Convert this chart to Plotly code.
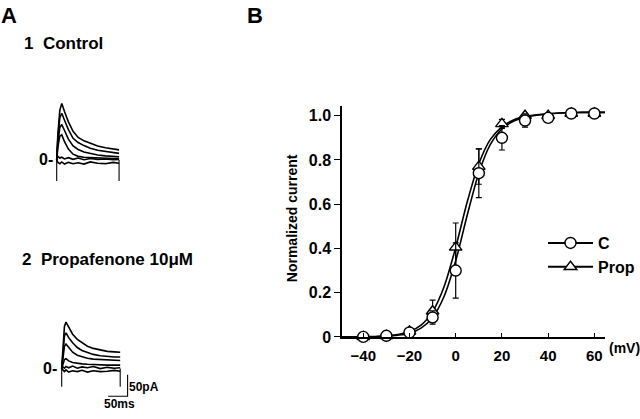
import plotly.graph_objects as go

# ---------------- panel B : normalized activation ----------------
volt = [-40, -30, -20, -10, 0, 10, 20, 30, 40, 50, 60]
ctrl_mean = [0.0, 0.005, 0.02, 0.088, 0.30, 0.74, 0.90, 0.978, 0.99, 1.01, 1.01]
ctrl_err = [0.0, 0.0, 0.01, 0.03, 0.125, 0.11, 0.055, 0.03, 0.015, 0.0, 0.0]
prop_mean = [0.0, 0.005, 0.025, 0.116, 0.405, 0.77, 0.963, 1.0, 1.0, 1.01, 1.01]
prop_err = [0.0, 0.0, 0.01, 0.05, 0.11, 0.08, 0.02, 0.01, 0.01, 0.0, 0.0]

fit_volt = [-50, -45, -40, -35, -30, -25, -20, -15, -10, -5, 0, 5,
            10, 15, 20, 25, 30, 35, 40, 45, 50, 55, 60, 65]
ctrl_fit = [0.0, 0.0, 0.001, 0.001, 0.003, 0.008, 0.017, 0.040, 0.088, 0.184, 0.344, 0.551,
            0.741, 0.870, 0.940, 0.975, 0.992, 1.002, 1.008, 1.012, 1.014, 1.015, 1.015, 1.015]
prop_fit = [0.0, 0.0, 0.001, 0.002, 0.005, 0.011, 0.024, 0.053, 0.114, 0.228, 0.405, 0.611,
            0.783, 0.893, 0.950, 0.981, 0.996, 1.004, 1.009, 1.012, 1.014, 1.015, 1.015, 1.015]

xticks = [-40, -20, 0, 20, 40, 60]
yticks = [0, 0.2, 0.4, 0.6, 0.8, 1.0]
ytick_text = ["0", "0.2", "0.4", "0.6", "0.8", "1.0"]

# ---------------- panel A : current traces (ms, pA) ----------------
ctrl_t = [0, 3, 8, 13, 20, 30, 42, 55, 70, 86, 105, 125, 145, 160]
ctrl_traces = [
    [0, 60, 115, 131, 112, 88, 66, 52, 44, 38, 32, 28, 25, 23],
    [0, 50, 98, 108, 92, 70, 50, 40, 33, 27, 22, 19, 16, 15],
    [0, 40, 75, 82, 68, 48, 32, 24, 18, 14, 11, 9, 8, 7],
    [0, 30, 55, 58, 42, 25, 13, 8, 6, 5, 4, 3, 3, 3],
    [0, 8, 4, 6, 2, 5, 1, 4, 0, 3, 1, 2, 0, 1],
    [0, -6, -9, -5, -10, -6, -9, -7, -10, -5, -8, -9, -6, -8],
]
prop_t = [0, 3, 7, 11, 18, 28, 40, 52, 66, 81, 99, 117, 135, 150]
prop_traces = [
    [0, 55, 98, 108, 96, 80, 68, 60, 52, 47, 43, 40, 39, 38],
    [0, 40, 76, 83, 72, 60, 49, 42, 37, 33, 30, 28, 27, 27],
    [0, 28, 52, 57, 48, 38, 31, 27, 24, 22, 21, 20, 19, 19],
    [0, 12, 21, 23, 18, 14, 12, 11, 10, 9, 9, 8, 8, 8],
    [0, 4, 1, 5, 2, 6, 1, 4, 2, 5, 0, 3, 1, 2],
    [0, -4, -7, -3, -8, -5, -7, -4, -8, -5, -7, -6, -4, -6],
]
ctrl_edges = [0, 160]
prop_edges = [0, 150]
ctrl_transient = -49
prop_transient = -42
scale_ms = 50
scale_pa = 50

W, H = 640, 419
FONT = "Liberation Sans, Arial, sans-serif"


def px(x):
    return x / W


def py(y):
    return 1 - y / H


fig = go.Figure()

# fitted curves
for fit in (prop_fit, ctrl_fit):
    fig.add_trace(go.Scatter(x=fit_volt, y=fit, mode="lines", showlegend=False,
                             line=dict(color="black", width=1.6, shape="spline", smoothing=0.8),
                             hoverinfo="skip"))

# data points
fig.add_trace(go.Scatter(x=volt, y=prop_mean, mode="markers", showlegend=False, cliponaxis=False,
                         error_y=dict(type="data", array=prop_err, color="black", thickness=1.2, width=3),
                         marker=dict(symbol="triangle-up", size=11, color="white",
                                     line=dict(color="black", width=1.4))))
fig.add_trace(go.Scatter(x=volt, y=ctrl_mean, mode="markers", showlegend=False, cliponaxis=False,
                         error_y=dict(type="data", array=ctrl_err, color="black", thickness=1.2, width=3),
                         marker=dict(symbol="circle", size=11, color="white",
                                     line=dict(color="black", width=1.4))))

# legend entries
fig.add_trace(go.Scatter(x=[None], y=[None], mode="lines+markers", name="C",
                         line=dict(color="black", width=2),
                         marker=dict(symbol="circle", size=11, color="white",
                                     line=dict(color="black", width=1.4))))
fig.add_trace(go.Scatter(x=[None], y=[None], mode="lines+markers", name="Prop",
                         line=dict(color="black", width=2),
                         marker=dict(symbol="triangle-up", size=11, color="white",
                                     line=dict(color="black", width=1.4))))

# panel A traces
for ax, t, traces, edges, depth in (("2", ctrl_t, ctrl_traces, ctrl_edges, ctrl_transient),
                                     ("3", prop_t, prop_traces, prop_edges, prop_transient)):
    for tr in traces:
        fig.add_trace(go.Scatter(x=t, y=tr, mode="lines", xaxis="x" + ax, yaxis="y" + ax,
                                 showlegend=False, hoverinfo="skip",
                                 line=dict(color="black", width=1.6)))
    fig.add_trace(go.Scatter(x=[edges[0], edges[0], None, edges[1], edges[1]],
                             y=[depth, 0, None, depth, 0], mode="lines",
                             xaxis="x" + ax, yaxis="y" + ax, showlegend=False, hoverinfo="skip",
                             line=dict(color="black", width=1.1)))

# scale bar (in the Propafenone panel)
bar_t, bar_i = 169, -64
fig.add_trace(go.Scatter(x=[bar_t - scale_ms, bar_t, bar_t], y=[bar_i, bar_i, bar_i + scale_pa],
                         mode="lines", xaxis="x3", yaxis="y3", showlegend=False, hoverinfo="skip",
                         line=dict(color="black", width=1.1)))

hidden = dict(visible=False, showgrid=False, zeroline=False)
fig.update_layout(
    width=W, height=H,
    margin=dict(l=0, r=0, t=0, b=0),
    paper_bgcolor="white", plot_bgcolor="white",
    font=dict(family=FONT, color="black"),
    xaxis=dict(domain=[px(342), px(605)], range=[-49.2, 64.6], anchor="y",
               showline=True, linecolor="black", linewidth=1.5, showgrid=False, zeroline=False,
               ticks="inside", ticklen=4, tickwidth=1.3, tickcolor="black",
               tickvals=xticks, ticklabelstandoff=4,
               tickfont=dict(size=15, weight="bold")),
    yaxis=dict(domain=[py(344.3), py(108.3)], range=[0, 1.044], anchor="x",
               showline=True, linecolor="black", linewidth=1.5, showgrid=False, zeroline=False,
               ticks="outside", ticklen=6, tickwidth=1.3, tickcolor="black",
               tickvals=yticks, ticktext=ytick_text,
               tickfont=dict(size=16, weight="bold")),
    xaxis2=dict(domain=[px(30), px(140)], range=[-68.5, 213.7], anchor="y2", **hidden),
    yaxis2=dict(domain=[py(200), py(90)], range=[-83.4, 166.6], anchor="x2", **hidden),
    xaxis3=dict(domain=[px(30), px(140)], range=[-81.3, 200.8], anchor="y3", **hidden),
    yaxis3=dict(domain=[py(419), py(310)], range=[-96.1, 151.6], anchor="x3", **hidden),
    legend=dict(x=px(543), y=py(231), xanchor="left", yanchor="top",
                font=dict(size=16, weight="bold"), bgcolor="rgba(0,0,0,0)",
                itemwidth=45, tracegroupgap=0),
)

annos = [
    dict(text="A", x=px(9), y=py(16), size=22),
    dict(text="B", x=px(255), y=py(16), size=22),
    dict(text="1  Control", x=px(63), y=py(44), size=17),
    dict(text="2  Propafenone 10μM", x=px(107), y=py(265), size=17),
    dict(text="0-", x=px(46), y=py(163), size=16),
    dict(text="0-", x=px(50), y=py(377), size=16),
    dict(text="50pA", x=px(144), y=py(395), size=12),
    dict(text="50ms", x=px(119), y=py(413), size=12),
    dict(text="(mV)", x=px(624), y=py(356), size=14),
]
for a in annos:
    fig.add_annotation(text=a["text"], x=a["x"], y=a["y"], xref="paper", yref="paper",
                       showarrow=False, xanchor="center", yanchor="middle",
                       font=dict(size=a["size"], weight="bold", family=FONT))

fig.add_annotation(text="Normalized current", x=px(292), y=py(223), xref="paper", yref="paper",
                   showarrow=False, textangle=-90, xanchor="center", yanchor="middle",
                   font=dict(size=14, weight="bold", family=FONT))

# the page body has a default 8px margin; drop it so the figure sits at the window corner
fig.write_html("out.html", config={"displayModeBar": False},
               post_script="document.body.style.margin='0px';")
